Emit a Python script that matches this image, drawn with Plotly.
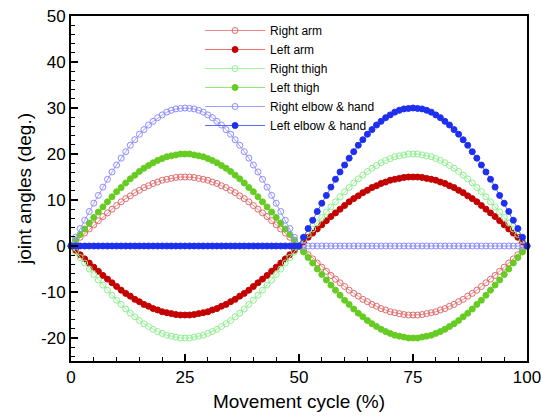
import plotly.graph_objects as go

# Movement cycle (%) – one sample per percent
cycle_pct = list(range(101))

right_arm = [
    0, 0.9, 1.9, 2.8, 3.7, 4.6, 5.5, 6.4, 7.2, 8.0, 8.8, 9.6, 10.3, 10.9, 11.6, 12.1, 12.7, 13.1, 13.6, 13.9, 14.3, 14.5, 14.7, 14.9, 15.0, 15.0,
    15.0, 14.9, 14.7, 14.5, 14.3, 13.9, 13.6, 13.1, 12.7, 12.1, 11.6, 10.9, 10.3, 9.6, 8.8, 8.0, 7.2, 6.4, 5.5, 4.6, 3.7, 2.8, 1.9, 0.9, 0,
    -0.9, -1.9, -2.8, -3.7, -4.6, -5.5, -6.4, -7.2, -8.0, -8.8, -9.6, -10.3, -10.9, -11.6, -12.1, -12.7, -13.1, -13.6, -13.9, -14.3, -14.5, -14.7, -14.9, -15.0, -15.0,
    -15.0, -14.9, -14.7, -14.5, -14.3, -13.9, -13.6, -13.1, -12.7, -12.1, -11.6, -10.9, -10.3, -9.6, -8.8, -8.0, -7.2, -6.4, -5.5, -4.6, -3.7, -2.8, -1.9, -0.9, 0,
]

left_arm = [
    0, -0.9, -1.9, -2.8, -3.7, -4.6, -5.5, -6.4, -7.2, -8.0, -8.8, -9.6, -10.3, -10.9, -11.6, -12.1, -12.7, -13.1, -13.6, -13.9, -14.3, -14.5, -14.7, -14.9, -15.0, -15.0,
    -15.0, -14.9, -14.7, -14.5, -14.3, -13.9, -13.6, -13.1, -12.7, -12.1, -11.6, -10.9, -10.3, -9.6, -8.8, -8.0, -7.2, -6.4, -5.5, -4.6, -3.7, -2.8, -1.9, -0.9, 0,
    0.9, 1.9, 2.8, 3.7, 4.6, 5.5, 6.4, 7.2, 8.0, 8.8, 9.6, 10.3, 10.9, 11.6, 12.1, 12.7, 13.1, 13.6, 13.9, 14.3, 14.5, 14.7, 14.9, 15.0, 15.0,
    15.0, 14.9, 14.7, 14.5, 14.3, 13.9, 13.6, 13.1, 12.7, 12.1, 11.6, 10.9, 10.3, 9.6, 8.8, 8.0, 7.2, 6.4, 5.5, 4.6, 3.7, 2.8, 1.9, 0.9, 0,
]

right_thigh = [
    0, -1.3, -2.5, -3.7, -5.0, -6.2, -7.4, -8.5, -9.6, -10.7, -11.8, -12.7, -13.7, -14.6, -15.4, -16.2, -16.9, -17.5, -18.1, -18.6, -19.0, -19.4, -19.6, -19.8, -20.0, -20.0,
    -20.0, -19.8, -19.6, -19.4, -19.0, -18.6, -18.1, -17.5, -16.9, -16.2, -15.4, -14.6, -13.7, -12.7, -11.8, -10.7, -9.6, -8.5, -7.4, -6.2, -5.0, -3.7, -2.5, -1.3, 0,
    1.3, 2.5, 3.7, 5.0, 6.2, 7.4, 8.5, 9.6, 10.7, 11.8, 12.7, 13.7, 14.6, 15.4, 16.2, 16.9, 17.5, 18.1, 18.6, 19.0, 19.4, 19.6, 19.8, 20.0, 20.0,
    20.0, 19.8, 19.6, 19.4, 19.0, 18.6, 18.1, 17.5, 16.9, 16.2, 15.4, 14.6, 13.7, 12.7, 11.8, 10.7, 9.6, 8.5, 7.4, 6.2, 5.0, 3.7, 2.5, 1.3, 0,
]

left_thigh = [
    0, 1.3, 2.5, 3.7, 5.0, 6.2, 7.4, 8.5, 9.6, 10.7, 11.8, 12.7, 13.7, 14.6, 15.4, 16.2, 16.9, 17.5, 18.1, 18.6, 19.0, 19.4, 19.6, 19.8, 20.0, 20.0,
    20.0, 19.8, 19.6, 19.4, 19.0, 18.6, 18.1, 17.5, 16.9, 16.2, 15.4, 14.6, 13.7, 12.7, 11.8, 10.7, 9.6, 8.5, 7.4, 6.2, 5.0, 3.7, 2.5, 1.3, 0,
    -1.3, -2.5, -3.7, -5.0, -6.2, -7.4, -8.5, -9.6, -10.7, -11.8, -12.7, -13.7, -14.6, -15.4, -16.2, -16.9, -17.5, -18.1, -18.6, -19.0, -19.4, -19.6, -19.8, -20.0, -20.0,
    -20.0, -19.8, -19.6, -19.4, -19.0, -18.6, -18.1, -17.5, -16.9, -16.2, -15.4, -14.6, -13.7, -12.7, -11.8, -10.7, -9.6, -8.5, -7.4, -6.2, -5.0, -3.7, -2.5, -1.3, 0,
]

right_elbow_hand = [
    0, 1.9, 3.8, 5.6, 7.5, 9.3, 11.0, 12.8, 14.5, 16.1, 17.6, 19.1, 20.5, 21.9, 23.1, 24.3, 25.3, 26.3, 27.1, 27.9, 28.5, 29.1, 29.5, 29.8, 29.9, 30.0,
    29.9, 29.8, 29.5, 29.1, 28.5, 27.9, 27.1, 26.3, 25.3, 24.3, 23.1, 21.9, 20.5, 19.1, 17.6, 16.1, 14.5, 12.8, 11.0, 9.3, 7.5, 5.6, 3.8, 1.9, 0,
    0, 0, 0, 0, 0, 0, 0, 0, 0, 0, 0, 0, 0, 0, 0, 0, 0, 0, 0, 0, 0, 0, 0, 0, 0,
    0, 0, 0, 0, 0, 0, 0, 0, 0, 0, 0, 0, 0, 0, 0, 0, 0, 0, 0, 0, 0, 0, 0, 0, 0,
]

left_elbow_hand = [
    0, 0, 0, 0, 0, 0, 0, 0, 0, 0, 0, 0, 0, 0, 0, 0, 0, 0, 0, 0, 0, 0, 0, 0, 0, 0,
    0, 0, 0, 0, 0, 0, 0, 0, 0, 0, 0, 0, 0, 0, 0, 0, 0, 0, 0, 0, 0, 0, 0, 0, 0,
    1.9, 3.8, 5.6, 7.5, 9.3, 11.0, 12.8, 14.5, 16.1, 17.6, 19.1, 20.5, 21.9, 23.1, 24.3, 25.3, 26.3, 27.1, 27.9, 28.5, 29.1, 29.5, 29.8, 29.9, 30.0,
    29.9, 29.8, 29.5, 29.1, 28.5, 27.9, 27.1, 26.3, 25.3, 24.3, 23.1, 21.9, 20.5, 19.1, 17.6, 16.1, 14.5, 12.8, 11.0, 9.3, 7.5, 5.6, 3.8, 1.9, 0,
]

series_names = ["Right arm", "Left arm", "Right thigh", "Left thigh",
                "Right elbow & hand", "Left elbow & hand"]
series_values = [right_arm, left_arm, right_thigh, left_thigh,
                 right_elbow_hand, left_elbow_hand]
marker_colors = ["#e06a6a", "#c40000", "#8fef8f", "#66cc22", "#8c8cff", "#1f2ff0"]
line_colors = ["#f08a8a", "#f07070", "#a6f2a6", "#90e870", "#a0a0ff", "#5a6cff"]
filled = [False, True, False, True, False, True]

x_tick_vals = [0, 25, 50, 75, 100]
x_tick_text = ["0", "25", "50", "75", "100"]
y_tick_vals = [-20, -10, 0, 10, 20, 30, 40, 50]
y_tick_text = ["-20", "-10", "0", "10", "20", "30", "40", "50"]

FONT = "Arial, Liberation Sans, Helvetica, sans-serif"

fig = go.Figure()
for name, vals, mc, lc, fl in zip(series_names, series_values, marker_colors, line_colors, filled):
    fig.add_trace(go.Scatter(
        x=cycle_pct, y=vals, name=name, mode="lines+markers",
        cliponaxis=False,
        line=dict(color=lc, width=1),
        marker=dict(
            symbol="circle" if fl else "circle-open",
            size=6,
            color=mc,
            line=dict(color=mc, width=1),
        ),
    ))

fig.update_layout(
    width=541, height=416,
    margin=dict(l=71, r=14, t=16, b=55),
    paper_bgcolor="white", plot_bgcolor="white",
    font=dict(family=FONT, color="black"),
    showlegend=True,
    legend=dict(
        x=0.283, y=1.0, xanchor="left", yanchor="top",
        bgcolor="rgba(0,0,0,0)", borderwidth=0,
        font=dict(size=12, family=FONT, color="black"),
        itemwidth=60, tracegroupgap=0,
    ),
)

fig.update_xaxes(
    range=[0, 100], tickvals=x_tick_vals, ticktext=x_tick_text,
    ticklabeloverflow="allow",
    ticks="inside", ticklen=7, tickwidth=1.5, tickcolor="black",
    minor=dict(ticks="inside", ticklen=4, tickwidth=1, tickcolor="black", dtick=5, tick0=0),
    showline=True, linecolor="black", linewidth=2, mirror=True,
    showgrid=False, zeroline=False,
    tickfont=dict(size=17, family=FONT),
    title=dict(text="Movement cycle (%)", font=dict(size=19, family=FONT), standoff=8),
    automargin=False,
)
fig.update_yaxes(
    range=[-25, 50], tickvals=y_tick_vals, ticktext=y_tick_text,
    ticks="inside", ticklen=7, tickwidth=1.5, tickcolor="black",
    minor=dict(ticks="inside", ticklen=4, tickwidth=1, tickcolor="black", dtick=2, tick0=0),
    showline=True, linecolor="black", linewidth=2, mirror=True,
    showgrid=False, zeroline=False,
    tickfont=dict(size=17, family=FONT),
    title=dict(text="joint angles (deg.)", font=dict(size=19, family=FONT), standoff=4),
    automargin=False,
)

fig.write_html("out.html")
